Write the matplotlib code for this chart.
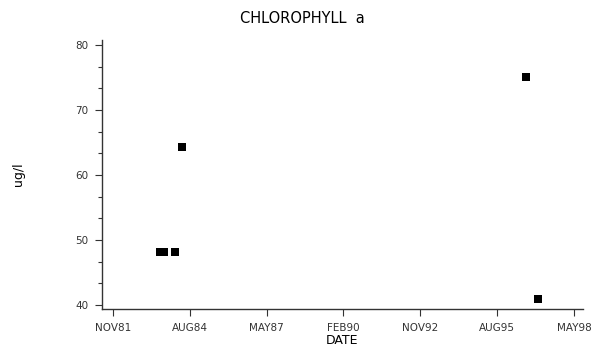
import matplotlib
matplotlib.use('Agg')
import matplotlib.pyplot as plt
from matplotlib.ticker import AutoMinorLocator

# sample dates as decimal years, values in ug/l
dates = [1983.53, 1983.67, 1984.06, 1984.30, 1996.61, 1997.04]
chla = [48.2, 48.2, 48.2, 64.3, 75.1, 40.9]

tick_pos = [1981.833, 1984.583, 1987.333, 1990.083, 1992.833, 1995.583, 1998.333]
tick_lab = ['NOV81', 'AUG84', 'MAY87', 'FEB90', 'NOV92', 'AUG95', 'MAY98']
y_ticks = [40, 50, 60, 70, 80]

fig = plt.figure(figsize=(6.05, 3.54), dpi=100)
ax = fig.add_axes([0.1686, 0.127, 0.795, 0.76])

ax.plot(dates, chla, 's', color='black', markersize=5.2, markeredgewidth=0)

ax.set_xlim(1981.44, 1998.655)
ax.set_ylim(39.38, 80.77)
ax.set_xticks(tick_pos)
ax.set_xticklabels(tick_lab)
ax.set_yticks(y_ticks)
ax.yaxis.set_minor_locator(AutoMinorLocator(3))

for s in ['top', 'right']:
    ax.spines[s].set_visible(False)
for s in ['left', 'bottom']:
    ax.spines[s].set_color('#333333')
    ax.spines[s].set_linewidth(1.0)

ax.tick_params(axis='both', which='major', length=5, width=0.8, color='#333333',
               labelsize=7.5, labelcolor='#333333', pad=5)
ax.tick_params(axis='y', which='minor', length=3, width=0.8, color='#333333')

ax.set_xlabel('DATE', fontsize=9, labelpad=1)
ax.set_ylabel('ug/l', fontsize=9, labelpad=36)
fig.suptitle('CHLOROPHYLL  a', fontsize=10.5, x=0.5, y=0.97)

fig.savefig('out.png', dpi=100)
